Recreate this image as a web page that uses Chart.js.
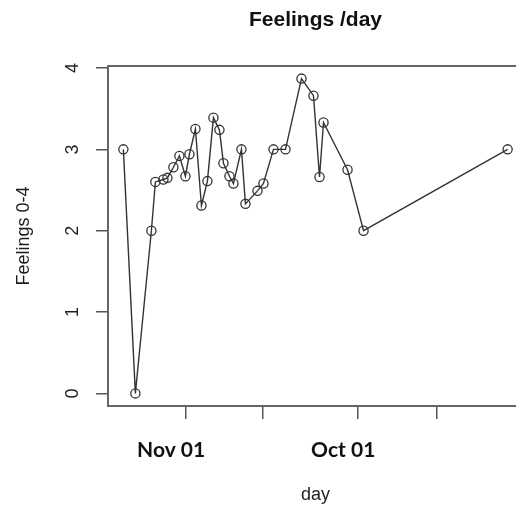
<!DOCTYPE html>
<html>
<head>
<meta charset="utf-8">
<script src="https://cdn.jsdelivr.net/npm/chart.js@4.4.1/dist/chart.umd.min.js"></script>
<style>
  html, body { margin: 0; padding: 0; background: #fff; overflow: hidden; }
  canvas { display: block; }
</style>
</head>
<body>
<canvas id="feelings" width="540" height="506"></canvas>
<script>
// Day offsets of each entry and the feeling score (0-4) recorded that day
const days = [0, 6, 14, 16, 20, 22, 25, 28, 31, 33, 36, 39, 42, 45, 48, 50, 53, 55, 59, 61, 67, 70, 75, 81, 89, 95, 98, 100, 112, 120, 192];
const feelings = [3.0, 0.0, 2.0, 2.6, 2.63, 2.65, 2.78, 2.92, 2.67, 2.94, 3.25, 2.31, 2.61, 3.39, 3.24, 2.83, 2.67, 2.58, 3.0, 2.33, 2.49, 2.58, 3.0, 3.0, 3.87, 3.66, 2.66, 3.33, 2.75, 2.0, 3.0];

// Axis ticks
const dayTicks = [31.35, 69.5, 117.35, 156.35];
const dayTickLabels = ['Nov 01', '', 'Oct 01', ''];
const feelingTicks = [0, 1, 2, 3, 4];

// R-style 4% padding around the data range
const dayMin = -7.68, dayMax = 199.68;
const feelMin = -0.155, feelMax = 4.025;

const lineCol = '#333';
const frameCol = '#666';
const tickCol = '#555';
const textCol = '#1e1e1e';
const sans = "'Liberation Sans', Arial, sans-serif";

const points = days.map((d, i) => ({ x: d, y: feelings[i] }));

new Chart(document.getElementById('feelings'), {
  type: 'line',
  data: {
    datasets: [{
      data: points,
      borderColor: lineCol,
      borderWidth: 1.4,
      tension: 0,
      fill: false,
      pointRadius: 4.6,
      pointBorderWidth: 1.3,
      pointBorderColor: lineCol,
      pointBackgroundColor: 'rgba(0,0,0,0)'
    }]
  },
  options: {
    responsive: false,
    animation: false,
    layout: { padding: { left: 0, right: 17, top: 0, bottom: 0 } },
    plugins: { legend: { display: false }, tooltip: { enabled: false } },
    scales: {
      x: {
        type: 'linear',
        position: 'bottom',
        min: dayMin,
        max: dayMax,
        afterBuildTicks: s => { s.ticks = dayTicks.map(v => ({ value: v })); },
        afterFit: s => { s.height = 100; },
        ticks: {
          autoSkip: false,
          minRotation: 0,
          maxRotation: 0,
          labelOffset: -15,
          padding: 19,
          color: '#111',
          font: { family: 'Lato', weight: 'bold', size: 21 },
          callback: (v, i) => dayTickLabels[i]
        },
        grid: { display: true, drawOnChartArea: false, drawTicks: true, tickLength: 13, color: tickCol, lineWidth: 1.5 },
        border: { display: true, color: frameCol, width: 2 },
        title: {
          display: true,
          text: 'day',
          color: textCol,
          font: { family: sans, size: 18 },
          padding: { top: 0, bottom: 0 }
        }
      },
      top: {
        type: 'linear',
        position: 'top',
        axis: 'x',
        min: 0,
        max: 1,
        afterFit: s => { s.height = 66; },
        ticks: { display: false },
        grid: { display: false },
        border: { display: true, color: frameCol, width: 2 },
        title: {
          display: true,
          text: 'Feelings /day',
          color: '#111',
          font: { family: sans, size: 21, weight: 'bold' },
          padding: { top: 8, bottom: 0 }
        }
      },
      y: {
        type: 'linear',
        position: 'left',
        min: feelMin,
        max: feelMax,
        afterBuildTicks: s => { s.ticks = feelingTicks.map(v => ({ value: v })); },
        afterFit: s => { s.width = 108; },
        ticks: {
          minRotation: 90,
          maxRotation: 90,
          crossAlign: 'center',
          padding: 18,
          color: textCol,
          font: { family: sans, size: 18 }
        },
        grid: { display: true, drawOnChartArea: false, drawTicks: true, tickLength: 12, color: tickCol, lineWidth: 1.5 },
        border: { display: true, color: frameCol, width: 2 },
        title: {
          display: true,
          text: 'Feelings 0-4',
          color: textCol,
          font: { family: sans, size: 18 },
          padding: { top: 13, bottom: 0 }
        }
      }
    }
  }
});
</script>
</body>
</html>
